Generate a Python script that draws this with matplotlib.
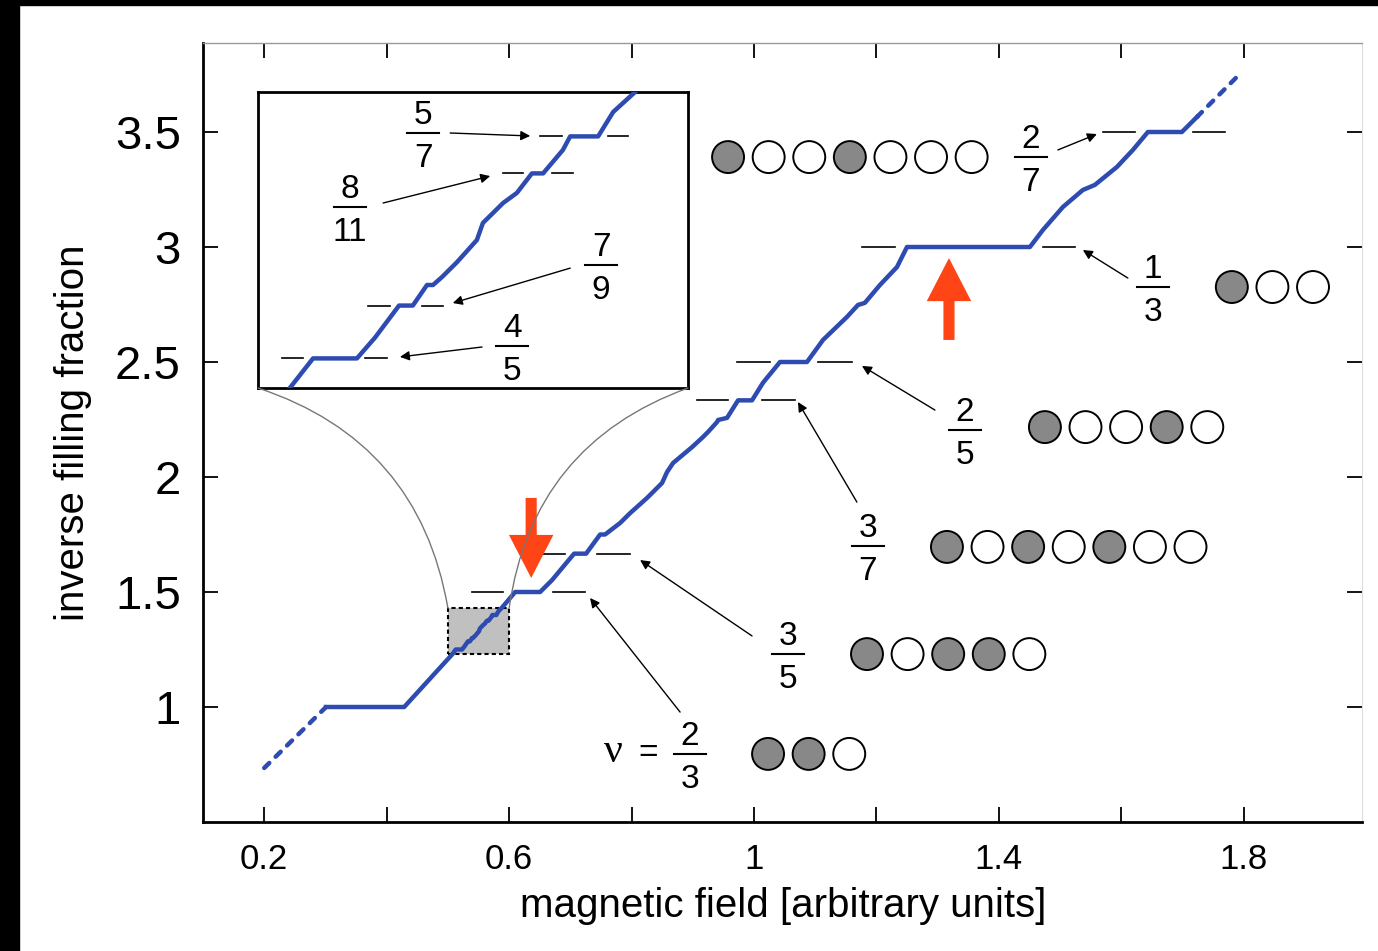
import matplotlib
matplotlib.use("Agg")
import matplotlib.pyplot as plt
from matplotlib.patches import Rectangle, ConnectionPatch

plt.rcParams["font.family"] = ["Liberation Sans", "DejaVu Sans"]

# staircase: inverse filling fraction vs magnetic field
field_lo = [0.200, 0.301]
inv_lo = [0.735, 1.000]

field = [0.301, 0.4286, 0.5074, 0.5128, 0.5230, 0.5272, 0.5328, 0.5360, 0.5393,
         0.5407, 0.5428, 0.5463, 0.5509, 0.5523, 0.5570, 0.5602, 0.5637, 0.5663,
         0.5709, 0.5726, 0.5791, 0.5826, 0.5877, 0.6098, 0.6506, 0.6702, 0.6880,
         0.7061, 0.7257, 0.7486, 0.7567, 0.7812, 0.7976, 0.8253, 0.8498, 0.8580,
         0.8678, 0.8988, 0.9167, 0.9249, 0.9396, 0.9413, 0.9559, 0.9739, 0.9967,
         1.0147, 1.0424, 1.0865, 1.1127, 1.1518, 1.1698, 1.1810, 1.2057, 1.2335,
         1.2498, 1.4506, 1.4718, 1.5045, 1.5371, 1.5567, 1.5927, 1.6188, 1.6433,
         1.6988, 1.7233]
inv_nu = [1.000, 1.000, 1.230, 1.250, 1.250, 1.264, 1.2857, 1.2857, 1.2996,
          1.2996, 1.305, 1.3151, 1.330, 1.3415, 1.355, 1.3618, 1.375, 1.375,
          1.3908, 1.400, 1.400, 1.4165, 1.430, 1.500, 1.500, 1.552, 1.609,
          1.6667, 1.6667, 1.750, 1.750, 1.800, 1.843, 1.909, 1.974, 2.022,
          2.061, 2.130, 2.174, 2.196, 2.239, 2.248, 2.257, 2.3333, 2.3333,
          2.410, 2.500, 2.500, 2.596, 2.696, 2.748, 2.757, 2.835, 2.913,
          3.000, 3.000, 3.074, 3.174, 3.248, 3.270, 3.348, 3.422, 3.500,
          3.500, 3.565]

field_hi = [1.7233, 1.7967]
inv_hi = [3.565, 3.761]

# reference dashes at the plateaus (level, start, end)
ref_levels = [1.5, 1.5, 5/3, 5/3, 7/3, 7/3, 2.5, 2.5, 3.0, 3.0, 3.5, 3.5]
ref_start = [0.5396, 0.6718, 0.6555, 0.7437, 0.9069, 1.0131, 0.9722, 1.1045, 1.1763, 1.4718, 1.5698, 1.7167]
ref_end = [0.5902, 0.7241, 0.6914, 0.7976, 0.9576, 1.0669, 1.0261, 1.1600, 1.2302, 1.5241, 1.6220, 1.7690]

inset_levels = [1.4, 1.4, 1.375, 1.375, 9/7, 9/7, 1.25, 1.25]
inset_start = [0.5656, 0.5814, 0.5570, 0.5684, 0.5256, 0.5381, 0.5056, 0.5249]
inset_end = [0.5707, 0.5860, 0.5616, 0.5733, 0.5307, 0.5430, 0.5105, 0.5300]

# fraction labels: numerator, denominator, position, arrow tail, arrow tip
main_num = ["2", "1", "2", "3", "3", "2"]
main_den = ["7", "3", "5", "7", "5", "3"]
main_pos = [(1.4522, 3.391), (1.6514, 2.826), (1.3445, 2.204), (1.1861, 1.700), (1.0555, 1.230), (0.8955, 0.796)]
main_tail = [(1.4963, 3.422), (1.6106, 2.865), (1.2955, 2.291), (1.1680, 1.891), (0.9967, 1.309), (0.8792, 0.978)]
main_tip = [(1.5600, 3.491), (1.5371, 2.987), (1.1763, 2.483), (1.0718, 2.326), (0.8139, 1.639), (0.7322, 1.474)]

inset_num = ["5", "8", "7", "4"]
inset_den = ["7", "11", "9", "5"]
inset_pos = [(0.5384, 1.4023), (0.5214, 1.3523), (0.5798, 1.3131), (0.5591, 1.2584)]
inset_tail = [(0.5447, 1.4023), (0.5291, 1.3550), (0.5726, 1.3110), (0.5521, 1.2577)]
inset_tip = [(0.5633, 1.4003), (0.5540, 1.3732), (0.5453, 1.2874), (0.5330, 1.2510)]

# occupation patterns (1 = filled)
rows_start = [(0.9576, 3.391), (1.7804, 2.826), (1.4751, 2.217), (1.3151, 1.696), (1.1845, 1.230), (1.0229, 0.796)]
rows_pattern = ["1001000", "100", "10010", "1010100", "10110", "110"]
circle_step = 0.0663

zoom_box = (0.5, 0.6, 1.23, 1.43)

blue = "#2d4bb0"
red = "#ff4415"

fig = plt.figure(figsize=(13.78, 9.51), dpi=100)
ax = fig.add_axes([203 / 1378, 129 / 951, 1159 / 1378, 779 / 951])
ax.set_xlim(0.1, 1.993)
ax.set_ylim(0.5, 3.887)

ax.plot(field_lo, inv_lo, color=blue, lw=3.2, ls=(0, (1.6, 2.0)), dash_capstyle="round")
ax.plot(field, inv_nu, color=blue, lw=3.2, zorder=4, solid_joinstyle="round")
ax.plot(field_hi, inv_hi, color=blue, lw=3.2, ls=(0, (1.6, 2.0)), dash_capstyle="round")

for lev, a, b in zip(ref_levels, ref_start, ref_end):
    ax.plot([a, b], [lev, lev], color="k", lw=1.2, zorder=3)

ax.add_patch(Rectangle((zoom_box[0], zoom_box[2]), zoom_box[1] - zoom_box[0], zoom_box[3] - zoom_box[2],
                       facecolor="#c0c0c0", edgecolor="k", ls=(0, (2, 1.5)), lw=1.5, zorder=2))


def frac(a, x, y, num, den, size=24):
    a.annotate(num, (x, y), xytext=(0, 6.5), textcoords="offset points", ha="center", va="baseline", fontsize=size)
    a.annotate(den, (x, y), xytext=(0, -24.4), textcoords="offset points", ha="center", va="baseline", fontsize=size)
    cx, cy = a.transData.transform((x, y))
    inv = a.transData.inverted()
    (x0, _), (x1, _) = inv.transform([(cx - 16, cy), (cx + 16, cy)])
    a.plot([x0, x1], [y, y], color="k", lw=1.5, clip_on=False)


def pointer(a, tail, tip):
    a.annotate("", xy=tip, xytext=tail,
               arrowprops=dict(arrowstyle="-|>", color="k", lw=1.0, mutation_scale=14, shrinkA=0, shrinkB=0))


for n, d, p, t0, t1 in zip(main_num, main_den, main_pos, main_tail, main_tip):
    frac(ax, p[0], p[1], n, d)
    pointer(ax, t0, t1)

ax.text(0.7698, 0.804, "ν", fontsize=30, family="Liberation Serif", ha="center", va="center")
ax.text(0.8269, 0.800, "=", fontsize=24, ha="center", va="center")

for (x0, y0), pat in zip(rows_start, rows_pattern):
    xs = [x0 + i * circle_step for i in range(len(pat))]
    cols = ["#888888" if c == "1" else "white" for c in pat]
    ax.scatter(xs, [y0] * len(pat), s=23 ** 2, c=cols, edgecolors="k", linewidths=1.4, zorder=5)

# red arrows
ax.annotate("", xy=(0.636, 1.561), xytext=(0.636, 1.909),
            arrowprops=dict(width=8, headwidth=32, headlength=31, facecolor=red, edgecolor="none", shrink=0), zorder=6)
ax.annotate("", xy=(1.3184, 2.952), xytext=(1.3184, 2.596),
            arrowprops=dict(width=8, headwidth=32, headlength=31, facecolor=red, edgecolor="none", shrink=0), zorder=6)

ax.set_xticks([0.2, 0.4, 0.6, 0.8, 1.0, 1.2, 1.4, 1.6, 1.8])
ax.set_xticklabels(["0.2", "", "0.6", "", "1", "", "1.4", "", "1.8"], fontsize=25)
ax.set_yticks([1, 1.5, 2, 2.5, 3, 3.5])
ax.set_yticklabels(["1", "1.5", "2", "2.5", "3", "3.5"], fontsize=34)
ax.tick_params(direction="in", length=11, width=1.3, top=True, right=True)
ax.tick_params(axis="x", pad=15)
ax.tick_params(axis="y", pad=16)

for s in ["left", "bottom"]:
    ax.spines[s].set_linewidth(2)
ax.spines["top"].set_color("#999999")
ax.spines["top"].set_linewidth(1)
ax.spines["right"].set_color("#dddddd")
ax.spines["right"].set_linewidth(0.8)

ax.set_xlabel("magnetic field [arbitrary units]", fontsize=29)
ax.set_ylabel("inverse filling fraction", fontsize=29)
ax.xaxis.set_label_coords(0.5004, -0.083)
ax.yaxis.set_label_coords(-0.096, 0.5)

# inset
ax_in = fig.add_axes([258 / 1378, 563 / 951, 430 / 1378, 296 / 951])
ax_in.set_xlim(zoom_box[0], zoom_box[1])
ax_in.set_ylim(zoom_box[2], zoom_box[3])
ax_in.plot(field, inv_nu, color=blue, lw=3.2, solid_joinstyle="round", zorder=4)
for lev, a, b in zip(inset_levels, inset_start, inset_end):
    ax_in.plot([a, b], [lev, lev], color="k", lw=1.2, zorder=3)
for n, d, p, t0, t1 in zip(inset_num, inset_den, inset_pos, inset_tail, inset_tip):
    frac(ax_in, p[0], p[1], n, d)
    pointer(ax_in, t0, t1)
ax_in.set_xticks([])
ax_in.set_yticks([])
for s in ax_in.spines.values():
    s.set_linewidth(2)

cp1 = ConnectionPatch(xyA=(0, 0), coordsA=ax_in.transAxes, xyB=(zoom_box[0], zoom_box[3]), coordsB=ax.transData,
                      connectionstyle="arc3,rad=-0.3", color="#777777", lw=1.0)
cp2 = ConnectionPatch(xyA=(1, 0), coordsA=ax_in.transAxes, xyB=(zoom_box[1], zoom_box[3]), coordsB=ax.transData,
                      connectionstyle="arc3,rad=0.3", color="#777777", lw=1.0)
fig.add_artist(cp1)
fig.add_artist(cp2)

# black margins of the original scan
fig.add_artist(Rectangle((0, 0), 19 / 1378, 1, transform=fig.transFigure, color="k"))
fig.add_artist(Rectangle((0, 1 - 5 / 951), 1, 5 / 951, transform=fig.transFigure, color="k"))

fig.savefig("out.png", dpi=100, facecolor="white")
